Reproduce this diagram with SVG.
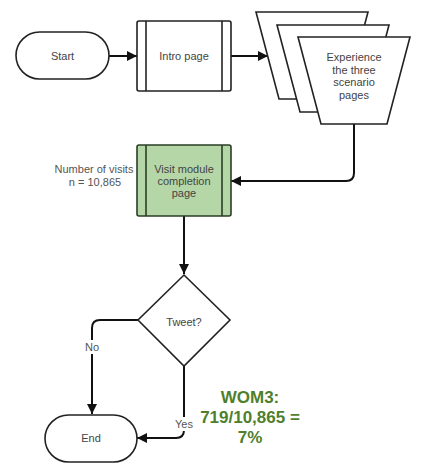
<svg xmlns="http://www.w3.org/2000/svg" width="422" height="472" viewBox="0 0 422 472">
<defs>
<marker id="arr" viewBox="0 0 10 10" refX="10" refY="5" markerWidth="10" markerHeight="10" markerUnits="userSpaceOnUse" orient="auto">
<path d="M0,0 L10,5 L0,10 Z" fill="#111"/>
</marker>
</defs>
<style>
.shape{fill:#fff;stroke:#222;stroke-width:1.6}
.green{fill:#b5d7a8;stroke:#2a3f26;stroke-width:1.6}
.edge{fill:none;stroke:#111;stroke-width:2;marker-end:url(#arr)}
.t{font-family:"Liberation Sans",Arial,sans-serif;font-size:11px;fill:#444;text-anchor:middle;dominant-baseline:central}
.lbl{font-family:"Liberation Sans",Arial,sans-serif;font-size:11px;fill:#555;text-anchor:middle;dominant-baseline:central}
.wom{font-family:"Liberation Sans",Arial,sans-serif;font-size:17px;font-weight:bold;fill:#4f7f2d;text-anchor:middle;dominant-baseline:central}
</style>
<rect width="422" height="472" fill="#fff"/>
<g id="connectors">
<path class="edge" d="M109,56 L137,56"/>
<path class="edge" d="M231,56 L268,56"/>
<path class="edge" d="M354,124 L354,173 Q354,181 346,181 L231,181"/>
<path class="edge" d="M184,216 L184,274"/>
<path class="edge" d="M138,320 L100,320 Q92,320 92,328 L92,414"/>
<path class="edge" d="M184,366 L184,430 Q184,438 176,438 L137,438"/>
<rect x="83" y="340" width="18" height="14" fill="#fff"/>
<text class="lbl" x="92" y="347">No</text>
<rect x="173" y="417" width="22" height="14" fill="#fff"/>
<text class="lbl" x="184" y="424">Yes</text>
</g>
<g id="start">
<rect class="shape" x="16" y="32" width="93" height="47" rx="23.5"/>
<text class="t" x="62.5" y="56">Start</text>
</g>
<g id="intro">
<rect class="shape" x="137" y="21" width="94" height="70" rx="2"/>
<line class="shape" x1="146" y1="21" x2="146" y2="91"/>
<line class="shape" x1="222" y1="21" x2="222" y2="91"/>
<text class="t" x="184" y="56">Intro page</text>
</g>
<g id="scenarios">
<path class="shape" d="M256,12 L368,12 L345,99 L279,99 Z"/>
<path class="shape" d="M277,25 L389,25 L366,112 L300,112 Z"/>
<path class="shape" d="M298,37 L410,37 L387,124 L321,124 Z"/>
<text class="t" x="354" y="57">Experience</text>
<text class="t" x="354" y="69.5">the three</text>
<text class="t" x="354" y="82">scenario</text>
<text class="t" x="354" y="94.5">pages</text>
</g>
<g id="completion">
<rect class="green" x="137" y="145" width="94" height="71" rx="2"/>
<line class="green" x1="146" y1="145" x2="146" y2="216"/>
<line class="green" x1="222" y1="145" x2="222" y2="216"/>
<text class="t" x="184" y="169" fill="#333">Visit module</text>
<text class="t" x="184" y="181">completion</text>
<text class="t" x="184" y="193">page</text>
</g>
<g id="visits-note">
<text class="lbl" x="94" y="169">Number of visits</text>
<text class="lbl" x="95" y="182">n = 10,865</text>
</g>
<g id="tweet">
<path class="shape" d="M184,275 L230,320 L184,366 L138,320 Z"/>
<text class="t" x="184" y="322">Tweet?</text>
</g>
<g id="end">
<rect class="shape" x="45" y="415" width="92" height="47" rx="23.5"/>
<text class="t" x="91" y="438">End</text>
</g>
<g id="wom3">
<text class="wom" x="250" y="397">WOM3:</text>
<text class="wom" x="250" y="417">719/10,865 =</text>
<text class="wom" x="250" y="437">7%</text>
</g>
</svg>
